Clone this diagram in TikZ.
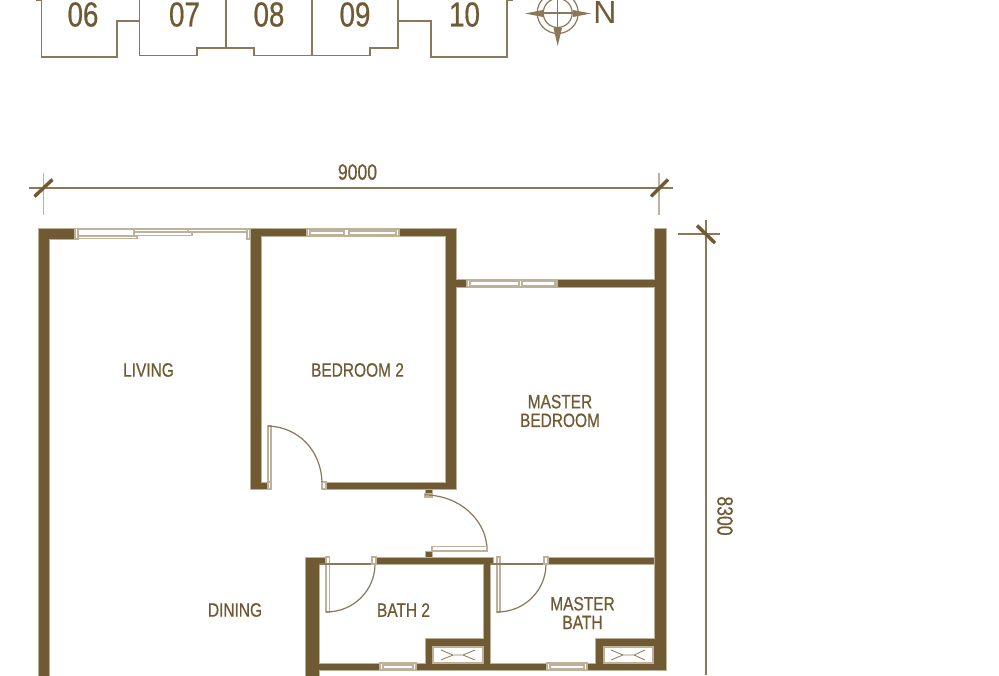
\documentclass[tikz,border=0pt]{standalone}
\usepackage{fontspec}
\setmainfont{Liberation Sans}
\newfontfamily\condfont[FakeStretch=0.8,FakeBold=0.6]{Liberation Sans}
\definecolor{wall}{HTML}{705A34}
\definecolor{linecol}{HTML}{8A7858}
\definecolor{pale}{HTML}{BDB199}
\tikzset{
  wallfill/.style={fill=wall,draw=pale,line width=0.4pt},
  jamb/.style={fill=white,draw=pale,line width=0.8pt},
  fine/.style={draw=linecol,line width=0.9pt},
  paleline/.style={draw=pale,line width=1pt},
  keyline/.style={draw=linecol,line width=1pt},
  slash/.style={draw=wall,line width=2.6pt},
  room/.style={text=wall,font=\condfont\fontsize{14.5}{14}\selectfont,align=center,inner sep=0pt},
  unitnum/.style={text=wall,font=\condfont\fontsize{26}{28}\selectfont,inner sep=0pt},
  dimtext/.style={text=wall,font=\condfont\fontsize{16.5}{18}\selectfont,inner sep=0pt},
}
\begin{document}
\begin{tikzpicture}[x=0.75pt,y=-0.75pt]
\useasboundingbox (0,0) rectangle (999,675);
\fill[white] (0,0) rectangle (999,675);
\begin{scope}
\clip (0,0) rectangle (999,675);
% key plan
\draw[keyline] (36,0.3)--(41.7,0.3)--(41.7,57)--(117,57)--(117,21)--(139.5,21)--(139.5,55.5)--(197,55.5)--(197,48)--(254,48)--(254,55.5)--(370,55.5)--(370,48)--(398,48)--(398,21)--(431,21)--(431,57)--(507,57)--(507,0.3)--(513,0.3);
\draw[keyline] (139.5,0)--(139.5,21) (226,0)--(226,48) (312,0)--(312,55.5) (398,0)--(398,21);
\node[unitnum] (u06) at (83,14.5) {06};
\node[unitnum] (u07) at (184.5,14.5) {07};
\node[unitnum] (u08) at (269,14.5) {08};
\node[unitnum] (u09) at (355,14.5) {09};
\node[unitnum] (u10) at (464.5,14.5) {10};
% compass
\coordinate (cc) at (557.7,13);
\draw[fine] (cc) circle (20.5) (cc) circle (14.5);
\draw[fine] (537,13)--(578.5,13) (557.7,0)--(557.7,34);
\fill[linecol] (525,13.5)--(543,10)--(543,17)--cycle;
\fill[linecol] (591,13.5)--(573,10)--(573,17)--cycle;
\fill[linecol] (557.7,46)--(553.5,28)--(562,28)--cycle;
\node[text=wall,font=\fontsize{24}{26}\selectfont,inner sep=0pt] (north) at (605,12) {N};
% dimensions
\coordinate (dl) at (29,188); \coordinate (dr) at (673,188);
\draw[fine] (dl)--(dr);
\coordinate (t1a) at (43.5,173); \coordinate (t1b) at (43.5,215);
\coordinate (t2a) at (659,173); \coordinate (t2b) at (659,215);
\draw[paleline] (t1a)--(t1b) (t2a)--(t2b);
\draw[slash] (34.5,196.5)--(52.5,179.5) (651,196.5)--(668,179.5);
\node[dimtext] (w9000) at (357.5,172) {9000};
\coordinate (v1) at (706,220); \coordinate (v2) at (706,675);
\coordinate (h1) at (678,234); \coordinate (h2) at (720,234);
\draw[fine] (v1)--(v2) (h1)--(h2);
\draw[slash] (697,225.5)--(715,243);
\node[dimtext,rotate=-90] (h8300) at (725,516) {8300};
% walls
\filldraw[wallfill] (38,228)--(75,228)--(75,239)--(49,239)--(49,676)--(38,676)--cycle;
\filldraw[wallfill] (250,228)--(307,228)--(307,236)--(261,236)--(261,482)--(268,482)--(268,489)--(250,489)--cycle;
\filldraw[wallfill] (399,228)--(456,228)--(456,279)--(467,279)--(467,287)--(456,287)--(456,489)--(326,489)--(326,482)--(445,482)--(445,236)--(399,236)--cycle;
\filldraw[wallfill] (557,279)--(654,279)--(654,228)--(666,228)--(666,670)--(587,670)--(587,663)--(595,663)--(595,638)--(654,638)--(654,287)--(557,287)--cycle;
\filldraw[wallfill] (548,557)--(654,557)--(654,564)--(548,564)--cycle;
% bath block
\filldraw[wallfill] (305,557)--(326,557)--(326,564)--(319,564)--(319,663)--(380,663)--(380,670)--(319,670)--(319,676)--(305,676)--cycle;
\filldraw[wallfill] (376,557)--(493,557)--(493,564)--(490,564)--(490,663)--(547,663)--(547,670)--(416,670)--(416,663)--(425,663)--(425,638)--(483,638)--(483,564)--(376,564)--cycle;
\filldraw[wallfill] (425,551)--(432,551)--(432,557)--(425,557)--cycle;
\filldraw[wallfill] (425,489)--(432,489)--(432,494)--(425,494)--cycle;
% shafts
\node[draw=pale,fill=white,line width=0.8pt,minimum width=50pt*0.75,minimum height=16pt*0.75,inner sep=0pt] (shaft1) at (458,655) {};
\node[draw=pale,fill=white,line width=0.8pt,minimum width=49pt*0.75,minimum height=16pt*0.75,inner sep=0pt] (shaft2) at (628.5,655) {};
\draw[fine,line width=0.6pt] (441,650)--(453,655)--(441,660) (475,650)--(463,655)--(475,660) (453,655)--(463,655);
\draw[fine,line width=0.6pt] (611,650)--(623,655)--(611,660) (645,650)--(634,655)--(645,660) (623,655)--(634,655);
% living windows
\draw[jamb] (75,228.5) rectangle (78,239);
\draw[jamb] (78,229) rectangle (134,238.5);
\draw[jamb] (78,236) rectangle (137,238.5);
\draw[jamb] (134,232) rectangle (192,235.5);
\draw[jamb] (134,229) rectangle (188,232);
\draw[jamb] (188,229) rectangle (247,232);
\draw[jamb] (247,229) rectangle (250,239);
\draw[paleline] (75,228.3)--(250,228.3);
% bedroom 2 window
\draw[jamb] (307,229) rectangle (399,236);
\draw[jamb] (310,231) rectangle (344,235);
\draw[jamb] (349,231) rectangle (396,235);
\draw[jamb] (344,229) rectangle (349,236);
% master window
\draw[jamb] (467,280) rectangle (557,287);
\draw[jamb] (470,281) rectangle (519,286);
\draw[jamb] (522,281) rectangle (555,286);
\draw[jamb] (519,280) rectangle (522,287);
% bath windows
\draw[jamb] (380,663) rectangle (416,670);
\draw[jamb] (383,665) rectangle (413,669);
\draw[jamb] (547,663) rectangle (587,670);
\draw[jamb] (550,665) rectangle (584,669);
% doors
\coordinate (d1h) at (268,426); \coordinate (d1e) at (322,482);
\draw[jamb] (268,426) rectangle (271,482);
\draw[jamb] (268,482) rectangle (271,489);
\draw[jamb] (322,482) rectangle (326,489);
\draw[fine] (d1h) .. controls (299,427) and (321,451) .. (d1e);
\coordinate (d2h) at (425,495); \coordinate (d2e) at (487,550);
\draw[jamb] (425,494) rectangle (432,497);
\draw[fine] (d2h) .. controls (459,495) and (487,520) .. (d2e);
\draw[jamb] (432,546.5) rectangle (487,551);
\coordinate (d3h) at (326,612); \coordinate (d3e) at (375,564);
\draw[jamb] (326,557) rectangle (329.5,612);
\draw[fine] (319,564)--(d3e);
\draw[fine] (d3h) .. controls (354,612) and (375,590) .. (d3e);
\draw[jamb] (372,557) rectangle (376,564);
\coordinate (d4h) at (497,612); \coordinate (d4e) at (546,564);
\draw[jamb] (497,557) rectangle (500,612);
\draw[fine] (490,564)--(d4e);
\draw[fine] (d4h) .. controls (525,612) and (546,590) .. (d4e);
\draw[jamb] (544,557) rectangle (548,564);
% labels
\node[room] (living) at (148.5,370) {LIVING};
\node[room] (bed2) at (357.5,370) {BEDROOM 2};
\node[room] (master) at (560,411) {MASTER\\BEDROOM};
\node[room] (dining) at (235,610) {DINING};
\node[room] (bath2) at (403.5,610) {BATH 2};
\node[room] (mbath) at (582.5,613) {MASTER\\BATH};
\end{scope}
\end{tikzpicture}
\end{document}
